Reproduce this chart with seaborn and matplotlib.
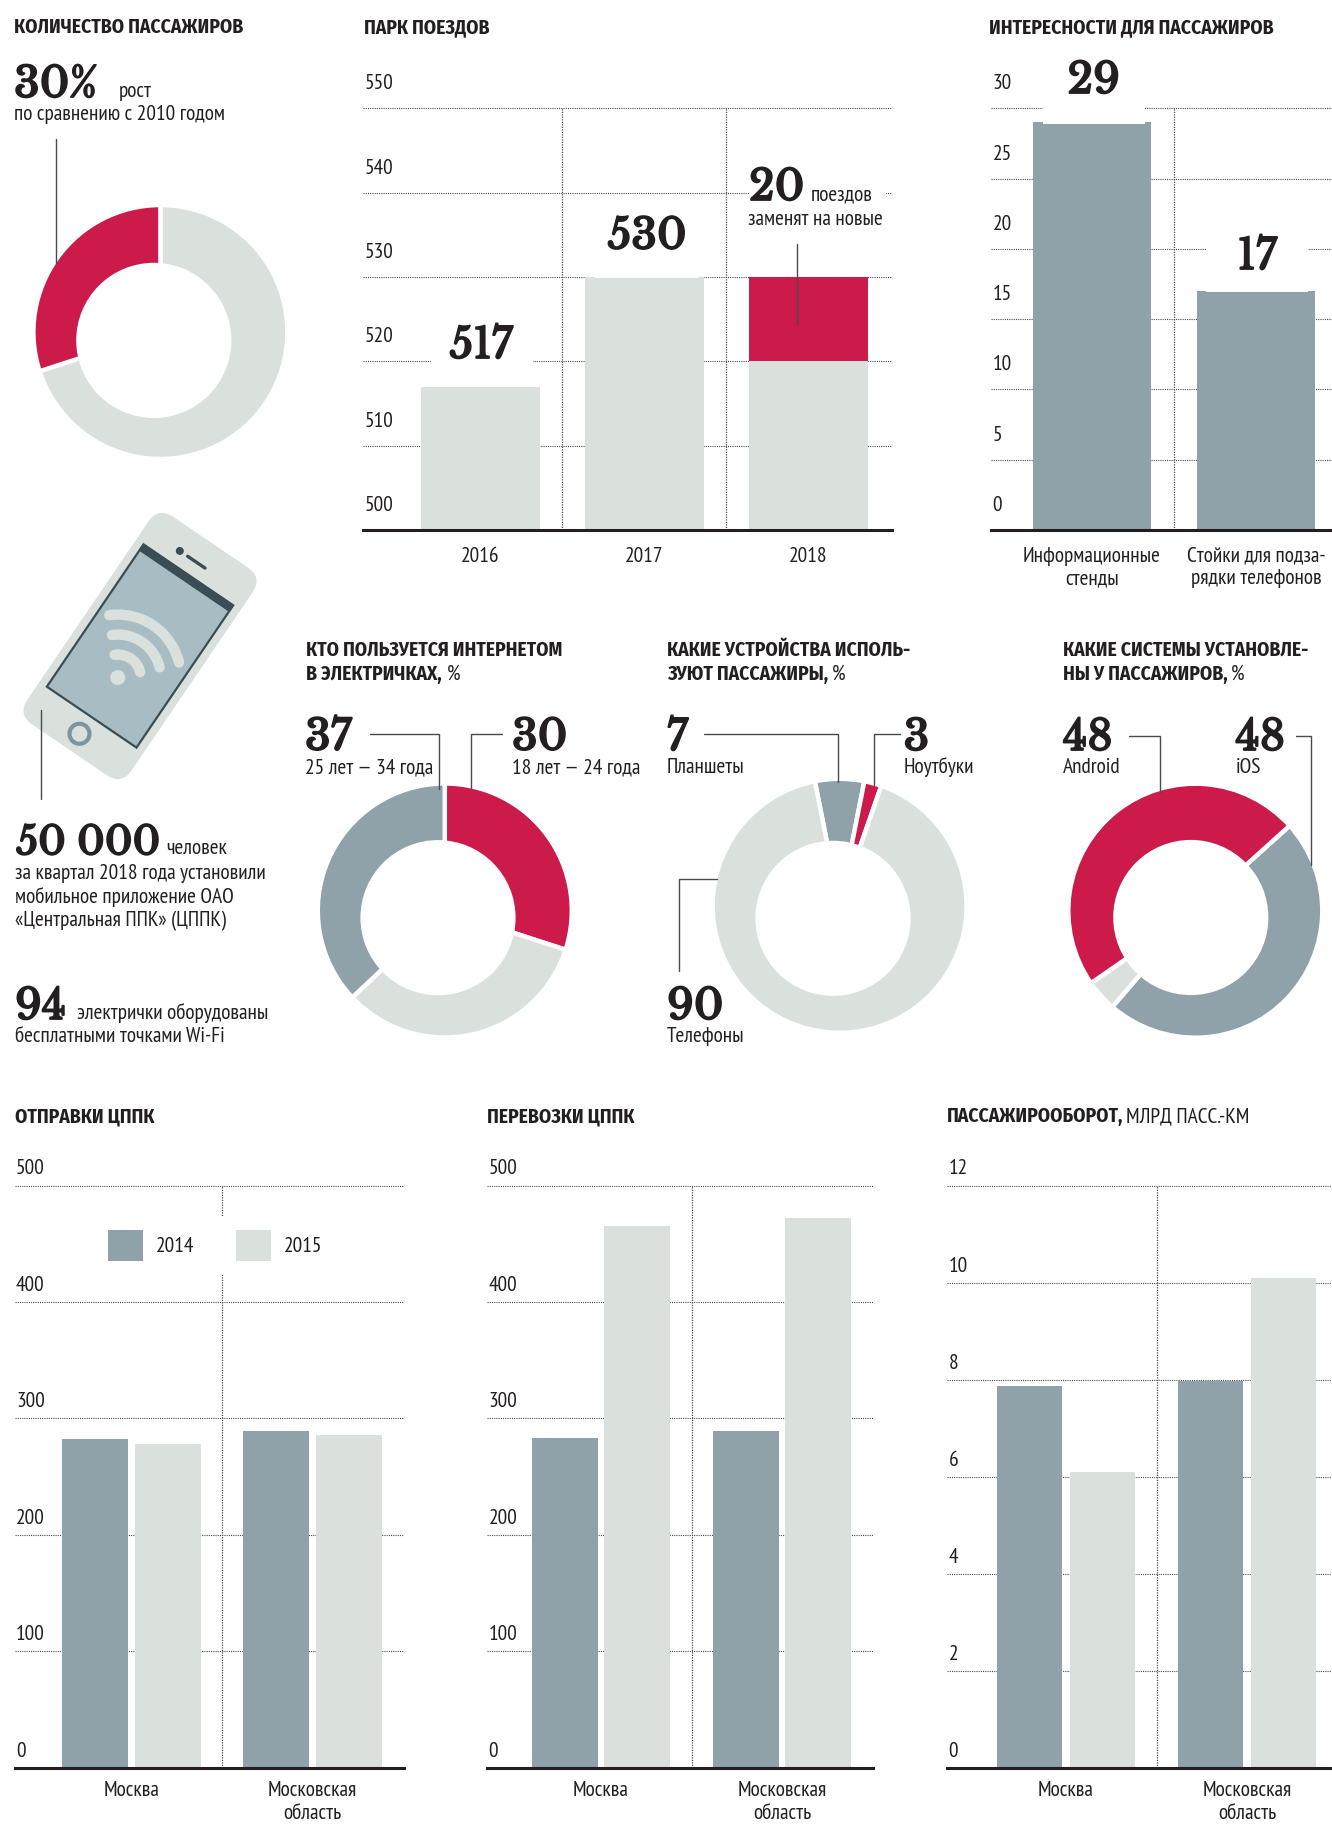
import matplotlib

matplotlib.use("Agg")
import matplotlib.patheffects as pe
import matplotlib.pyplot as plt
import matplotlib.transforms as mtrans
import numpy as np
import pandas as pd
import seaborn as sns
from matplotlib.patches import Circle, FancyBboxPatch, Rectangle

W, H = 1332, 1828
RED = "#cc1a4b"
BLUE = "#8fa2a9"
LIGHT = "#dae1dd"
INK = "#231f20"
LINE = "#4a4a4a"
NARROW = ["PT Sans Narrow", "Roboto Condensed", "DejaVu Sans"]
NARROW_BOLD = ["Fira Sans Condensed", "Roboto Condensed", "PT Sans Narrow", "DejaVu Sans"]
SERIF = ["Libre Baskerville", "Liberation Serif", "DejaVu Serif"]
TEXT_SIZE = 15.4

# %% Data
fleet_years = ["2016", "2017", "2018"]
fleet_totals = [517, 530, 530]
fleet_kept = [517, 530, 520]
fleet_ticks = [500, 510, 520, 530, 540, 550]

extras_labels = ["Информационные\nстенды", "Стойки для подза-\nрядки телефонов"]
extras_values = [29, 17]
extras_ticks = [0, 5, 10, 15, 20, 25, 30]

regions = ["Москва", "Московская\nобласть"]
years = ["2014", "2015"]
departures_2014 = [282, 289]
departures_2015 = [278, 285.5]
carried_2014 = [283, 289]
carried_2015 = [465, 472]
turnover_2014 = [7.87, 7.96]
turnover_2015 = [6.10, 10.1]
ticks_500 = [0, 100, 200, 300, 400, 500]
ticks_12 = [0, 2, 4, 6, 8, 10, 12]

growth_shares = [30, 70]
age_shares = [30, 33, 37]
device_shares = [6.25, 2.2, 91.55]
system_shares = [48, 4, 48]

sns.set_theme(style="white")
plt.rcParams["font.family"] = NARROW
plt.rcParams["text.color"] = INK

fig = plt.figure(figsize=(W / 100, H / 100), dpi=100, facecolor="white")

# overlay in reference pixels for text, leaders and the phone
ov = fig.add_axes([0, 0, 1, 1], zorder=10)
ov.set_xlim(0, W)
ov.set_ylim(H, 0)
ov.axis("off")
ov.patch.set_alpha(0)


def px_axes(left, right, top, bottom):
    return fig.add_axes(
        [left / W, 1 - bottom / H, (right - left) / W, (bottom - top) / H]
    )


def style_bars(ax, ticks, left, right, first, step, top, bottom, label_up, pad, tick_px):
    # top/bottom are the pixel rows of the highest tick and of the baseline
    lo, hi = ticks[0], ticks[-1]
    per_px = (hi - lo) / (bottom - top)
    ax.set_ylim(lo, hi + 2 * per_px)
    ax.set_xlim((left - first) / step, (right - first) / step)
    ax.set_xlabel("")
    ax.set_ylabel("")
    ax.set_axisbelow(True)
    ax.patch.set_alpha(0)
    sns.despine(ax=ax, left=True, top=True, right=True)
    ax.spines["bottom"].set_linewidth(2.2)
    ax.spines["bottom"].set_color(INK)
    ax.set_yticks(ticks)
    ax.set_yticklabels([str(t) for t in ticks])
    ax.tick_params(
        axis="y", direction="in", length=tick_px * 0.72, width=1.1, color=LINE, pad=-1,
        labelsize=TEXT_SIZE, labelcolor=INK,
    )
    ax.tick_params(axis="x", which="major", length=0, pad=pad, labelsize=TEXT_SIZE, labelcolor=INK)
    ax.yaxis.grid(True, color=LINE, lw=0.8, ls=(0, (1, 1)))
    ax.xaxis.grid(False)
    shift = mtrans.ScaledTranslation(0, label_up / 100, fig.dpi_scale_trans)
    for lab in ax.get_yticklabels():
        lab.set_ha("left")
        lab.set_va("baseline")
        lab.set_transform(lab.get_transform() + shift)
    # separators between the categories: dotted inside, solid below the axis
    seps = [i + 0.5 for i in range(len(ax.get_xticks()) - 1)]
    ax.set_xticks(seps, minor=True)
    ax.tick_params(axis="x", which="minor", direction="out", length=16, width=1.1, color=INK)
    for s in seps:
        ax.plot([s, s], [lo, hi], color=LINE, lw=0.9, ls=(0, (1, 1)), zorder=1)


def grouped(a2014, a2015, ticks, left, right, first, width, gap, legend=False):
    df = pd.DataFrame(
        {
            "region": regions * 2,
            "year": years[0:1] * 2 + years[1:2] * 2,
            "value": a2014 + a2015,
        }
    )
    ax = px_axes(left, right, 1183.5, 1767.6)
    sns.barplot(
        data=df, x="region", y="value", hue="year", palette=[BLUE, LIGHT],
        order=regions, hue_order=years, width=width, gap=gap, saturation=1,
        linewidth=0, legend=legend, ax=ax,
    )
    style_bars(ax, ticks, left, right, first, 181, 1185.5, 1767.6, 11, 10, 29)
    for lab in ax.get_xticklabels():
        lab.set_linespacing(1.25)
    return ax


def donut(cx, cy, shares, colors, start, hole_dx, hole_dy):
    # the hole sits off-centre in the reference
    r = 127
    ax = fig.add_axes([(cx - r) / W, 1 - (cy + r) / H, 2 * r / W, 2 * r / H], zorder=2)
    ax.pie(
        shares, colors=colors, startangle=start, counterclock=False, radius=1,
        wedgeprops={"edgecolor": "white", "linewidth": 3.2},
    )
    ax.add_patch(Circle((hole_dx / r, -hole_dy / r), 77.6 / r, fc="white", ec="none", zorder=5))
    ax.set_xlim(-1, 1)
    ax.set_ylim(-1, 1)
    ax.set_aspect("equal")
    return ax


def big(x, y, s, ha="left", size=30):
    ov.text(
        x, y, s, family=SERIF, weight="bold", fontsize=size, ha=ha, va="baseline", color=INK,
        path_effects=[pe.withStroke(linewidth=1.3, foreground=INK)],
    )


def body(x, y, s, size=TEXT_SIZE, ha="left"):
    ov.text(x, y, s, fontsize=size, ha=ha, va="baseline", color=INK)


def title(x, y, s):
    ov.text(x, y, s, family=NARROW_BOLD, weight="bold", fontsize=14, va="baseline", color=INK)


def leader(xs, ys):
    ov.plot(xs, ys, color=LINE, lw=1.0, solid_joinstyle="miter")


def mask(x0, x1, y0, y1):
    ov.add_patch(Rectangle((x0, y0), x1 - x0, y1 - y0, fc="white", ec="none"))


# %% Fleet bars
left, right = 362.8, 892
ax = px_axes(left, right, 106.4, 530)
sns.barplot(
    x=fleet_years[2:], y=fleet_totals[2:], order=fleet_years, color=RED,
    width=0.729, saturation=1, linewidth=0, ax=ax,
)
sns.barplot(
    x=fleet_years, y=fleet_kept, order=fleet_years, color=LIGHT,
    width=0.729, saturation=1, linewidth=0, ax=ax,
)
style_bars(ax, fleet_ticks, left, right, 480.4, 164, 108.4, 530, 19, 12, 34)

# %% Extras bars
left, right = 991, W
ax = px_axes(left, right, 106.3, 530)
sns.barplot(
    x=extras_labels, y=extras_values, order=extras_labels, color=BLUE,
    width=0.72, saturation=1, linewidth=0, ax=ax,
)
style_bars(ax, extras_ticks, left, right, 1092, 164, 108.3, 530, 19, 12, 24)
for lab in ax.get_xticklabels():
    lab.set_linespacing(1.25)

# %% Bottom row
ax = grouped(departures_2014, departures_2015, ticks_500, 14.7, 404, 131.5, 0.8066, 0.096, legend=True)
ax.legend(
    handles=ax.get_legend().legend_handles, labels=years, ncol=2, frameon=True,
    facecolor="white", edgecolor="none", framealpha=1, fancybox=False,
    loc="center", bbox_to_anchor=(215, 1245.5), bbox_transform=ov.transData,
    fontsize=TEXT_SIZE, handlelength=1.63, handleheight=1.9, handletextpad=0.6,
    columnspacing=1.95, borderpad=0.6, borderaxespad=0,
)
ax.get_legend().set_zorder(5)
grouped(carried_2014, carried_2015, ticks_500, 487, 873.3, 601, 0.796, 0.083)
grouped(turnover_2014, turnover_2015, ticks_12, 947.3, W, 1066, 0.8066, 0.096)

# %% Donuts
donut(160.4, 332, growth_shares[::-1], [LIGHT, RED], 90, -6.6, 8.4)
donut(444.8, 910.5, age_shares, [RED, LIGHT, BLUE], 90, -6.8, 7.2)
donut(839.6, 905.8, device_shares, [BLUE, RED, LIGHT], 101.25, -6.6, 12.5)
donut(1195.3, 910.7, system_shares, [BLUE, LIGHT, RED], 42, -4.5, 6.8)

# %% Phone
phone = mtrans.Affine2D().rotate_deg(34.2).translate(140, 646) + ov.transData
ov.add_patch(
    FancyBboxPatch(
        (-45, -107.5), 90, 215, boxstyle="round,pad=18,rounding_size=18",
        fc=LIGHT, ec="none", transform=phone,
    )
)
ov.add_patch(Rectangle((-54.2, -86), 108.4, 172, fc="#a8bcc3", ec="#3a4d55", lw=1.6, transform=phone))
ov.add_patch(Rectangle((-54.2, -86), 108.4, 7, fc="#3a4d55", ec="#3a4d55", lw=1, transform=phone))
ov.add_patch(Circle((-20.5, -101), 4, fc="#3a4d55", ec="none", transform=phone))
ov.plot([-11, 10], [-101, -101], color="#3a4d55", lw=2.4, solid_capstyle="round", transform=phone)
ov.add_patch(Circle((-0.7, 106.6), 10, fc="none", ec="#7d959e", lw=3, transform=phone))
ov.add_patch(Circle((-0.6, 38.6), 7.5, fc=LIGHT, ec="none", transform=phone))
for r in [23, 43, 63]:
    t = np.radians(np.linspace(228, 312, 40))
    ov.plot(
        -0.6 + r * np.cos(t), 38.6 + r * np.sin(t), color=LIGHT, lw=7.5,
        solid_capstyle="round", transform=phone,
    )

# %% White gaps behind the callouts
mask(430.5, 532.7, 345, 375)
mask(595, 698, 240, 277.8)
mask(749, 886, 180, 205)
mask(1043, 1145, 60, 124)
mask(1206, 1308, 230, 292)

# %% Titles
title(14, 33, "КОЛИЧЕСТВО ПАССАЖИРОВ")
title(364, 33, "ПАРК ПОЕЗДОВ")
title(989, 33, "ИНТЕРЕСНОСТИ ДЛЯ ПАССАЖИРОВ")
title(305.6, 655.5, "КТО ПОЛЬЗУЕТСЯ ИНТЕРНЕТОМ")
title(305.6, 679.5, "В ЭЛЕКТРИЧКАХ,")
body(447, 679.5, "%")
title(667, 655.5, "КАКИЕ УСТРОЙСТВА ИСПОЛЬ-")
title(667, 679.5, "ЗУЮТ ПАССАЖИРЫ,")
body(832, 679.5, "%")
title(1063, 655.5, "КАКИЕ СИСТЕМЫ УСТАНОВЛЕ-")
title(1063, 679.5, "НЫ У ПАССАЖИРОВ,")
body(1230.7, 679.5, "%")
title(15, 1122, "ОТПРАВКИ ЦППК")
title(487, 1122, "ПЕРЕВОЗКИ ЦППК")
title(946.5, 1122, "ПАССАЖИРООБОРОТ,")
body(1126, 1122, "МЛРД ПАСС.-КМ")

# %% Callouts
big(14, 97, "30%")
body(118.3, 97, "рост")
body(14.5, 119.5, "по сравнению с 2010 годом")
leader([55.7, 55.7], [138.7, 262.7])

big(481, 358, "517", ha="center")
big(647, 248.6, "530", ha="center")
big(749, 200, "20")
body(810.6, 200, "поездов")
body(748, 225, "заменят на новые")
leader([796.8, 796.8], [244, 325])

big(1093.7, 93, "29", ha="center")
big(1257, 269, "17", ha="center")

leader([41, 41], [710, 799])
big(16, 854.4, "50 000", size=28)
body(166.7, 854.4, "человек")
body(15, 879, "за квартал 2018 года установили")
body(15, 903, "мобильное приложение ОАО")
body(15, 926, "«Центральная ППК» (ЦППК)")
big(15, 1019, "94")
body(76.6, 1019, "электрички оборудованы")
body(15, 1042, "бесплатными точками Wi-Fi")

big(305, 749.7, "37")
body(305, 773.8, "25 лет — 34 года")
leader([369.5, 439, 439], [734, 734, 788.6])
big(512, 749.7, "30")
body(512, 773.8, "18 лет — 24 года")
leader([502, 470.5, 470.5], [734, 734, 788])

big(667, 750, "7")
body(667, 773, "Планшеты")
leader([704, 838.3, 838.3], [733.7, 733.7, 782])
big(903.6, 750, "3")
body(903.6, 773, "Ноутбуки")
leader([900, 874.4, 874.4], [733.7, 733.7, 785])
big(667, 1019, "90")
body(667, 1041.7, "Телефоны")
leader([717.4, 679, 679], [879, 879, 970.7])

big(1063, 750, "48")
body(1063, 773, "Android")
leader([1128.5, 1160, 1160], [736, 736, 791.7])
big(1235.5, 750, "48")
body(1235.5, 773, "iOS")
leader([1295.5, 1311, 1311], [736, 736, 865])

ov.set_xlim(0, W)
ov.set_ylim(H, 0)
fig.savefig("out.png", dpi=100, facecolor="white")
plt.close(fig)
